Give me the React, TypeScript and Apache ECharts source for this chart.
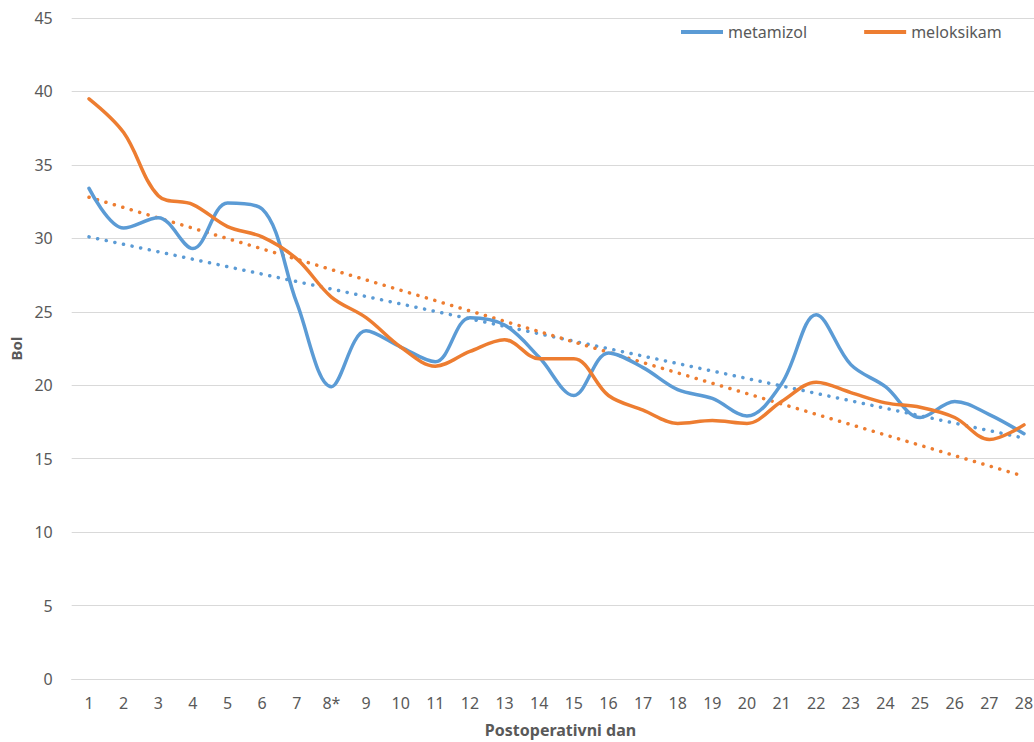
import React, { useEffect, useRef } from "react";
import * as echarts from "echarts";

const days = ["1","2","3","4","5","6","7","8*","9","10","11","12","13","14","15","16","17","18","19","20","21","22","23","24","25","26","27","28"];
const metamizol = [33.4,30.7,31.4,29.3,32.4,32.0,25.6,19.9,23.7,22.6,21.6,24.6,24.1,21.9,19.3,22.2,21.2,19.7,19.1,17.9,20.1,24.8,21.4,19.9,17.8,18.9,18.0,16.7];
const meloksikam = [39.5,37.2,32.9,32.3,30.8,30.1,28.6,26.0,24.6,22.6,21.3,22.3,23.1,21.8,21.8,19.3,18.3,17.4,17.6,17.4,18.9,20.2,19.5,18.8,18.5,17.8,16.3,17.3];
// trendline endpoints (day 1 and day 28)
const metamizolTrend = [30.1, 16.4];
const meloksikamTrend = [32.8, 13.8];
const yTicks = { min: 0, max: 45, interval: 5 };

const BLUE = "#5B9BD5";
const ORANGE = "#ED7D31";

function trendData(ends: number[]) {
  return days.map((_, i) => (i === 0 ? ends[0] : i === days.length - 1 ? ends[1] : null));
}

export default function App() {
  const ref = useRef<HTMLDivElement>(null);
  useEffect(() => {
    const chart = echarts.init(ref.current!, null, { renderer: "svg" });
    const font = "'Noto Sans', sans-serif";
    chart.setOption({
      animation: false,
      textStyle: { fontFamily: font },
      grid: { left: 71.7, right: -7.3, top: 18, bottom: 63, containLabel: false, outerBoundsMode: "none" },
      legend: {
        left: 676,
        top: 19,
        itemWidth: 42,
        itemHeight: 4,
        itemGap: 57,
        icon: "rect",
        data: ["metamizol", "meloksikam"],
        textStyle: { fontSize: 16, color: "#595959", fontFamily: font },
      },
      xAxis: {
        type: "category",
        data: days,
        boundaryGap: true,
        axisLine: { lineStyle: { color: "#d9d9d9", width: 1 } },
        axisTick: { show: false },
        axisLabel: { fontSize: 16, color: "#595959", margin: 16, fontFamily: font },
        name: "Postoperativni dan",
        nameLocation: "middle",
        nameGap: 43,
        nameTextStyle: { fontSize: 16, fontWeight: "bold", color: "#595959", fontFamily: font, padding: [0, 0, 0, 8] },
      },
      yAxis: {
        type: "value",
        min: yTicks.min,
        max: yTicks.max,
        interval: yTicks.interval,
        axisLine: { show: false },
        axisTick: { show: false },
        splitLine: { lineStyle: { color: "#d9d9d9", width: 1 } },
        axisLabel: { fontSize: 16, color: "#595959", margin: 19, fontFamily: font },
        name: "Bol",
        nameLocation: "middle",
        nameGap: 46,
        nameRotate: 90,
        nameTextStyle: { fontSize: 15, fontWeight: "bold", color: "#595959", fontFamily: font },
      },
      series: [
        {
          name: "metamizol",
          type: "line",
          data: metamizol,
          smooth: 0.35,
          showSymbol: false,
          symbol: "none",
          color: BLUE,
          lineStyle: { color: BLUE, width: 3.5, cap: "round" },
          z: 3,
        },
        {
          name: "meloksikam",
          type: "line",
          data: meloksikam,
          smooth: 0.35,
          showSymbol: false,
          symbol: "none",
          color: ORANGE,
          lineStyle: { color: ORANGE, width: 3.5, cap: "round" },
          z: 3,
        },
        {
          name: "metamizol trend",
          type: "line",
          data: trendData(metamizolTrend),
          connectNulls: true,
          showSymbol: false,
          symbol: "none",
          lineStyle: { color: BLUE, width: 3.5, type: [0.1, 8.7], cap: "round" },
          z: 2,
        },
        {
          name: "meloksikam trend",
          type: "line",
          data: trendData(meloksikamTrend),
          connectNulls: true,
          showSymbol: false,
          symbol: "none",
          lineStyle: { color: ORANGE, width: 3.5, type: [0.1, 8.7], cap: "round" },
          z: 2,
        },
      ],
    });
    return () => chart.dispose();
  }, []);
  return (
    <div
      ref={ref}
      style={{ position: "absolute", left: 0, top: 0, width: 1034, height: 742, background: "#fff" }}
    />
  );
}
